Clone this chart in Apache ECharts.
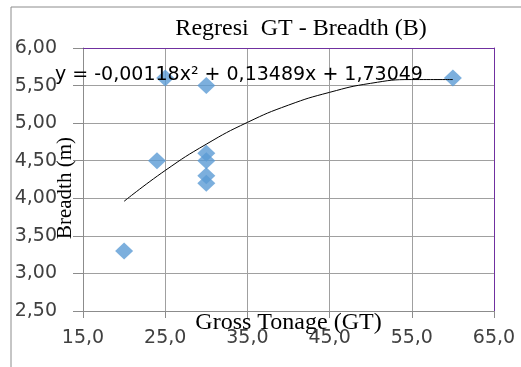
<!DOCTYPE html>
<html>
<head>
<meta charset="utf-8">
<script src="https://cdn.jsdelivr.net/npm/echarts@6/dist/echarts.min.js"></script>
<style>
  html, body { margin: 0; padding: 0; background: #fff; }
  #chart { width: 521px; height: 367px; }
</style>
</head>
<body>
<div id="chart"></div>
<script>
// data points
const gtValues = [20, 24, 25, 30, 30, 30, 30, 30, 60];
const breadthValues = [3.3, 4.5, 5.6, 5.5, 4.6, 4.5, 4.3, 4.2, 5.6];
// trendline
const trendX = [20, 25, 30, 35, 40, 45, 50, 55, 60];
const trendY = [3.96, 4.37, 4.72, 5.01, 5.24, 5.41, 5.53, 5.58, 5.58];
const titleText = 'Regresi  GT - Breadth (B)';
const equationText = 'y = -0,00118x² + 0,13489x + 1,73049';

const chart = echarts.init(document.getElementById('chart'));

const comma = (v, d) => v.toFixed(d).replace('.', ',');

// top / right frame of the plot (purple), no labels
const frameAxis = {
  axisLine: { show: true, lineStyle: { color: '#7030a0' } },
  axisTick: { show: false },
  axisLabel: { show: false },
  splitLine: { show: false }
};

const option = {
  animation: false,
  title: {
    text: titleText,
    left: 296,
    textAlign: 'center',
    top: 12,
    textStyle: {
      fontFamily: 'Liberation Serif',
      fontWeight: 'normal',
      fontSize: 24,
      color: '#000'
    }
  },
  grid: {
    left: 83,
    top: 48,
    right: 27,
    bottom: 56,
    containLabel: false,
    outerBoundsMode: 'none'
  },
  xAxis: [{
    type: 'value',
    min: 15,
    max: 65,
    interval: 10,
    name: 'Gross Tonage (GT)',
    nameLocation: 'middle',
    nameGap: 0,
    nameMoveOverlap: false,
    nameTextStyle: {
      fontFamily: 'Liberation Serif',
      fontSize: 24,
      color: '#000',
      verticalAlign: 'top'
    },
    axisLine: { show: true, lineStyle: { color: '#8c8c8c' } },
    axisTick: { show: true, length: 7, lineStyle: { color: '#8c8c8c' } },
    axisLabel: {
      margin: 18,
      fontFamily: 'DejaVu Sans',
      fontSize: 19,
      color: '#404040',
      formatter: v => comma(v, 1)
    },
    splitLine: { show: true, lineStyle: { color: '#a0a0a0' } }
  }, Object.assign({ type: 'value', position: 'top', min: 15, max: 65, interval: 10 }, frameAxis)],
  yAxis: [{
    type: 'value',
    min: 2.5,
    max: 6,
    interval: 0.5,
    name: 'Breadth (m)',
    nameLocation: 'middle',
    nameRotate: 90,
    nameGap: 7,
    nameMoveOverlap: false,
    nameTextStyle: {
      fontFamily: 'Liberation Serif',
      fontSize: 21,
      color: '#000',
      padding: [0, 17, 0, 0]
    },
    axisLine: { show: true, lineStyle: { color: '#8c8c8c' } },
    axisTick: { show: true, length: 10, lineStyle: { color: '#8c8c8c' } },
    axisLabel: {
      margin: 26,
      fontFamily: 'DejaVu Sans',
      fontSize: 19,
      color: '#404040',
      formatter: v => comma(v, 2)
    },
    splitLine: { show: true, lineStyle: { color: '#a0a0a0' } }
  }, Object.assign({ type: 'value', position: 'right', min: 2.5, max: 6, interval: 0.5 }, frameAxis)],
  graphic: [
    {
      type: 'line',
      shape: { x1: 11, y1: 7, x2: 521, y2: 7 },
      style: { stroke: '#8c8c8c', lineWidth: 1 }
    },
    {
      type: 'line',
      shape: { x1: 11, y1: 7, x2: 11, y2: 367 },
      style: { stroke: '#8c8c8c', lineWidth: 1 }
    },
    {
      type: 'text',
      left: 55,
      top: 66,
      z: 10,
      style: {
        text: equationText,
        fontFamily: 'DejaVu Sans',
        fontSize: 19,
        fill: '#000'
      }
    }
  ],
  series: [
    {
      name: 'trend',
      type: 'line',
      smooth: true,
      showSymbol: false,
      lineStyle: { color: '#000', width: 1 },
      data: trendX.map((x, i) => [x, trendY[i]]),
      z: 3
    },
    {
      name: 'data',
      type: 'scatter',
      symbol: 'diamond',
      symbolSize: [18, 17],
      itemStyle: { color: '#5b9bd5' },
      data: gtValues.map((x, i) => [x, breadthValues[i]]),
      z: 2
    }
  ]
};

chart.setOption(option);
</script>
</body>
</html>
